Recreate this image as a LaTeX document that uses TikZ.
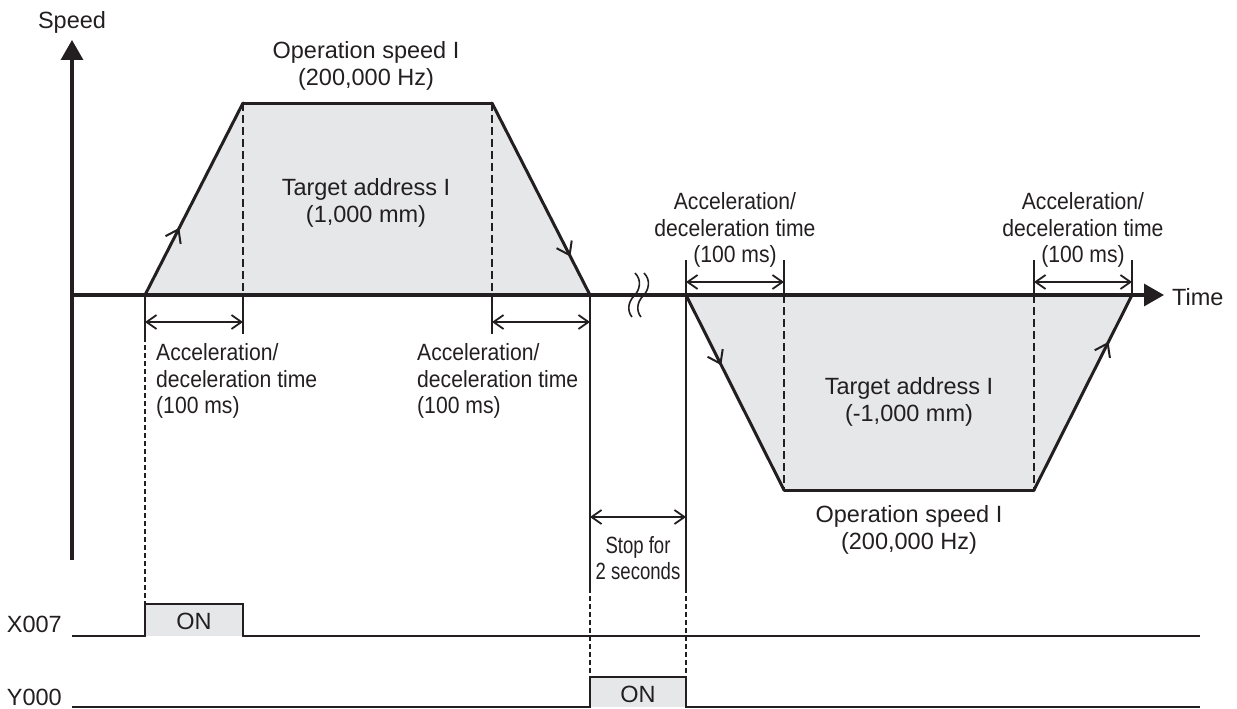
\documentclass[tikz,border=0pt]{standalone}
\usepackage{fontspec}
\setmainfont{Liberation Sans}
\usetikzlibrary{arrows.meta,decorations.markings}
\definecolor{fillgray}{HTML}{E6E7E8}
\definecolor{ink}{HTML}{231F20}
\newcommand{\cnd}[1]{\scalebox{0.9}[1]{#1}}
\newcommand{\cndd}[1]{\scalebox{0.79}[1]{#1}}
\begin{document}
\begin{tikzpicture}[x=1pt,y=-1pt,
  lbl/.style={font=\fontsize{23.5}{26.5}\selectfont, inner sep=0pt, align=center, text=ink},
  axisline/.style={draw=ink, line width=3.2pt, -{Triangle[length=20pt,width=22pt]}},
  edgeline/.style={draw=ink, line width=3pt, line cap=round},
  thickdash/.style={draw=ink, line width=2.4pt, dash pattern=on 8pt off 4pt},
  thindash/.style={draw=ink, line width=1.5pt, dash pattern=on 5pt off 3pt},
  extline/.style={draw=ink, line width=1.8pt},
  dimline/.style={draw=ink, line width=1.8pt, {Straight Barb[length=10pt,width=14pt]}-{Straight Barb[length=10pt,width=14pt]}},
  sigline/.style={draw=ink, line width=2.6pt},
  midarr/.style={postaction={decorate}, decoration={markings,
     mark=at position #1 with {\arrow[ink, line width=2pt]{Straight Barb[length=12pt,width=17pt]}}}},
  brk/.style={draw=ink, line width=1.6pt}
]
\useasboundingbox (0,0) rectangle (1237,709);

% coordinates
\coordinate (O) at (72,295);
\coordinate (Ytop) at (72,40);
\coordinate (Ybot) at (72,560);
\coordinate (Tend) at (1164,295);
\coordinate (A1) at (145,295);
\coordinate (A2) at (243,103);
\coordinate (A3) at (492,103);
\coordinate (A4) at (590,295);
\coordinate (A2b) at (243,295);
\coordinate (A3b) at (492,295);
\coordinate (B1) at (686,295);
\coordinate (B2) at (784,490);
\coordinate (B3) at (1034,490);
\coordinate (B4) at (1132,295);
\coordinate (B2t) at (784,295);
\coordinate (B3t) at (1034,295);

% fills
\fill[fillgray] (A1) -- (A2) -- (A3) -- (A4) -- cycle;
\fill[fillgray] (B1) -- (B2) -- (B3) -- (B4) -- cycle;
\fill[fillgray] (145,604) rectangle (243,636);
\fill[fillgray] (590,677) rectangle (686,707);

% dashed projections
\draw[thickdash] (A2) -- (A2b);
\draw[thickdash] (A3) -- (A3b);
\draw[thickdash] (B2t) -- (B2);
\draw[thickdash] (B3t) -- (B3);

% extension lines
\coordinate (e1a) at (145,337); \coordinate (e1b) at (145,604);
\draw[extline] (A1) -- (e1a);
\draw[thindash] (e1a) -- (e1b);
\coordinate (e2a) at (243,334);
\draw[extline] (A2b) -- (e2a);
\coordinate (e3a) at (492,334);
\draw[extline] (A3b) -- (e3a);
\coordinate (e4a) at (590,588); \coordinate (e4b) at (590,677);
\draw[extline] (A4) -- (e4a);
\draw[thindash] (e4a) -- (e4b);
\coordinate (e5t) at (686,260); \coordinate (e5a) at (686,588); \coordinate (e5b) at (686,677);
\draw[extline] (e5t) -- (e5a);
\draw[thindash] (e5a) -- (e5b);
\coordinate (e6t) at (784,260);
\draw[extline] (e6t) -- (B2t);
\coordinate (e7t) at (1034,260);
\draw[extline] (e7t) -- (B3t);
\coordinate (e8t) at (1132,260);
\draw[extline] (e8t) -- (B4);

% dimension arrows
\coordinate (d1a) at (145,322); \coordinate (d1b) at (243,322);
\draw[dimline] (d1a) -- (d1b);
\coordinate (d2a) at (492,322); \coordinate (d2b) at (590,322);
\draw[dimline] (d2a) -- (d2b);
\coordinate (d3a) at (686,282); \coordinate (d3b) at (784,282);
\draw[dimline] (d3a) -- (d3b);
\coordinate (d4a) at (1034,282); \coordinate (d4b) at (1132,282);
\draw[dimline] (d4a) -- (d4b);
\coordinate (d5a) at (590,517); \coordinate (d5b) at (686,517);
\draw[dimline] (d5a) -- (d5b);

% axes
\draw[axisline] (Ybot) -- (Ytop);
\draw[axisline] (O) -- (Tend);

% trapezoid edges
\draw[edgeline, midarr=0.35] (A1) -- (A2);
\draw[edgeline] (A2) -- (A3);
\draw[edgeline, midarr=0.8] (A3) -- (A4);
\draw[edgeline, midarr=0.36] (B1) -- (B2);
\draw[edgeline] (B2) -- (B3);
\draw[edgeline, midarr=0.76] (B3) -- (B4);

% break marks
\draw[brk] (635,273) .. controls (642,280) and (640,290) .. (634,296) .. controls (628,302) and (627,311) .. (632,317);
\draw[brk] (644,273) .. controls (651,280) and (649,290) .. (643,296) .. controls (637,302) and (636,311) .. (641,317);

% signals
\coordinate (x0) at (72,636); \coordinate (x1) at (145,636); \coordinate (x2) at (145,604);
\coordinate (x3) at (243,604); \coordinate (x4) at (243,636); \coordinate (x5) at (1200,636);
\draw[sigline, line join=miter] (x0) -- (x1) -- (x2) -- (x3) -- (x4) -- (x5);
\coordinate (y0) at (72,707); \coordinate (y1) at (590,707); \coordinate (y2) at (590,677);
\coordinate (y3) at (686,677); \coordinate (y4) at (686,707); \coordinate (y5) at (1200,707);
\draw[sigline, line join=miter] (y0) -- (y1) -- (y2) -- (y3) -- (y4) -- (y5);

% labels
\node[lbl] (speed) at (72,22) {Speed};
\node[lbl, anchor=west] (time) at (1172,297) {Time};
\node[lbl] (opspd1) at (366,66) {Operation speed I\\(200,000 Hz)};
\node[lbl] (tgt1) at (366,203) {Target address I\\(1,000 mm)};
\node[lbl, align=left, anchor=west] (acc1) at (156,381) {\cnd{Acceleration/}\\\cnd{deceleration time}\\\cnd{(100 ms)}};
\node[lbl, align=left, anchor=west] (acc2) at (417,381) {\cnd{Acceleration/}\\\cnd{deceleration time}\\\cnd{(100 ms)}};
\node[lbl] (acc3) at (735,230) {\cnd{Acceleration/}\\\cnd{deceleration time}\\\cnd{(100 ms)}};
\node[lbl] (acc4) at (1083,230) {\cnd{Acceleration/}\\\cnd{deceleration time}\\\cnd{(100 ms)}};
\node[lbl] (tgt2) at (909,402) {Target address I\\(-1,000 mm)};
\node[lbl] (opspd2) at (909,530) {Operation speed I\\(200,000 Hz)};
\node[lbl] (stop) at (638,558) {\cndd{Stop for}\\\cndd{2 seconds}};
\node[lbl, anchor=east] (x007) at (62,624) {X007};
\node[lbl, anchor=east] (y000) at (62,697) {Y000};
\node[lbl] (on1) at (194,621) {ON};
\node[lbl] (on2) at (638,694) {ON};
\end{tikzpicture}
\end{document}
